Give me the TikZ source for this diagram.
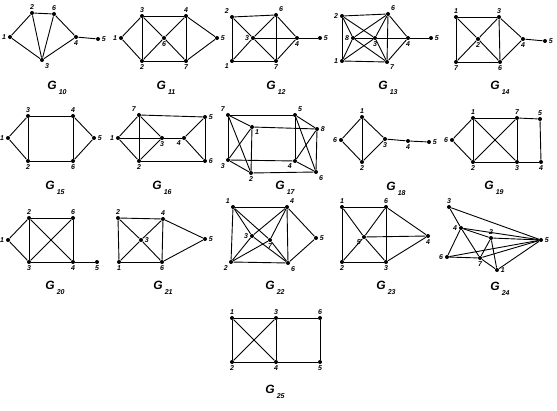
\documentclass[tikz,border=0pt]{standalone}
\usepackage{fontspec}
\setmainfont{Liberation Sans}
\tikzset{
  dot/.style={circle,fill=black,inner sep=0pt,minimum size=4pt},
  vnum/.style={font=\bfseries\itshape\fontsize{7}{7}\selectfont,inner sep=1pt},
  gname/.style={font=\bfseries\itshape\fontsize{12}{12}\selectfont},
}
\newcommand{\gsub}[1]{G\,\raisebox{-0.4em}{\fontsize{7}{7}\selectfont #1}}
\begin{document}
\begin{tikzpicture}[
        x=1pt, y=-1pt,
        line width=0.9pt,
        every label/.style={vnum},
        ]
        \useasboundingbox (0,0) rectangle (557,411);

        % G10
        \foreach \n/\x/\y/\a in {1/10/37/left,2/32/13/above,6/54/14/above,4/76/37/below,5/98/39/right,3/42/60/below right}
          \node[dot,label=\a:\n] (g10n\n) at (\x,\y) {};
        \foreach \u/\v in {1/2,1/3,2/6,2/3,6/3,6/4,3/4,4/5}
          \draw (g10n\u) -- (g10n\v);
        \node[gname] (t10) at (57,88) {\gsub{10}};

        % G11
        \foreach \n/\x/\y/\a in {1/121/38/left,3/142/16/above,4/186/16/above,5/217/38/right,6/164/38/below,2/142/61/below,7/186/61/below}
          \node[dot,label=\a:\n] (g11n\n) at (\x,\y) {};
        \foreach \u/\v in {1/3,1/2,3/4,3/2,3/6,6/7,2/6,6/4,4/7,4/5,7/5,2/7}
          \draw (g11n\u) -- (g11n\v);
        \node[gname] (t11) at (166,88) {\gsub{11}};

        % G12
        \foreach \n/\x/\y/\a in {2/232/17/above left,6/276/15/above right,3/253/38/left,4/297/38/below,5/320/38/right,1/232/61/below left,7/276/61/below}
          \node[dot,label=\a:\n] (g12n\n) at (\x,\y) {};
        \foreach \u/\v in {2/6,2/1,2/3,3/7,1/3,3/6,3/4,6/7,6/4,7/4,1/7,4/5}
          \draw (g12n\u) -- (g12n\v);
        \node[gname] (t12) at (276,88) {\gsub{12}};

        % G13
        \foreach \n/\x/\y/\a in {2/342/16/left,6/388/14/above right,8/353/38/left,3/375/38/below,4/408/38/below,5/431/38/right,1/342/61/left,7/387/62/below right}
          \node[dot,label=\a:\n] (g13n\n) at (\x,\y) {};
        \foreach \u/\v in {2/6,2/1,6/7,1/7,2/8,1/8,8/6,8/7,8/3,2/3,1/3,3/6,3/7,3/4,6/4,7/4,4/5}
          \draw (g13n\u) -- (g13n\v);
        \node[gname] (t13) at (388,88) {\gsub{13}};

        % G14
        \foreach \n/\x/\y/\a in {1/456/17/above,3/499/17/above,2/478/39/below,4/523/39/below,5/545/41/right,7/456/62/below,6/500/62/below}
          \node[dot,label=\a:\n] (g14n\n) at (\x,\y) {};
        \foreach \u/\v in {1/3,1/7,1/2,2/6,3/2,2/7,3/6,3/4,6/4,7/6,4/5}
          \draw (g14n\u) -- (g14n\v);
        \node[gname] (t14) at (500,88) {\gsub{14}};

        % G15
        \foreach \n/\x/\y/\a in {1/8/138/left,3/28/116/above,4/73/116/above,5/94/138/right,2/28/161/below,6/73/161/below}
          \node[dot,label=\a:\n] (g15n\n) at (\x,\y) {};
        \foreach \u/\v in {1/3,1/2,3/4,3/2,4/6,4/5,5/6,2/6}
          \draw (g15n\u) -- (g15n\v);
        \node[gname] (t15) at (55,188) {\gsub{15}};

        % G16
        \foreach \n/\x/\y/\a in {7/139/115/above left,5/205/117/right,1/118/138/left,3/162/138/below,4/184/138/below left,2/139/161/below,6/205/161/right}
          \node[dot,label=\a:\n] (g16n\n) at (\x,\y) {};
        \foreach \u/\v in {7/5,1/7,1/2,1/3,7/2,7/3,2/3,3/4,4/5,4/6,5/6,2/6}
          \draw (g16n\u) -- (g16n\v);
        \node[gname] (t16) at (162,188) {\gsub{16}};

        % G17
        \foreach \n/\x/\y/\a in {7/228/115/above left,5/295/115/above right,1/252/127/below right,8/317/129/right,3/228/160/below left,4/295/161/below left,2/251/173/below,6/316/172/below right}
          \node[dot,label=\a:\n] (g17n\n) at (\x,\y) {};
        \foreach \u/\v in {7/5,7/1,7/3,7/2,1/3,1/8,1/2,5/8,5/4,5/6,8/4,8/6,3/4,3/2,4/6,2/6}
          \draw (g17n\u) -- (g17n\v);
        \node[gname] (t17) at (285,188) {\gsub{17}};

        % G18
        \foreach \n/\x/\y/\a in {1/362/117/above,6/341/140/left,3/385/139/below,4/408/141/below,5/429/142/right,2/362/162/below}
          \node[dot,label=\a:\n] (g18n\n) at (\x,\y) {};
        \foreach \u/\v in {1/6,1/2,1/3,6/2,2/3,3/4,4/5}
          \draw (g18n\u) -- (g18n\v);
        \node[gname] (t18) at (396,189) {\gsub{18}};

        % G19
        \foreach \n/\x/\y/\a in {1/473/118/above,7/517/118/above,5/540/119/above,6/452/140/left,2/473/162/below,3/517/162/below,4/541/162/below}
          \node[dot,label=\a:\n] (g19n\n) at (\x,\y) {};
        \foreach \u/\v in {1/7,7/5,5/4,4/3,3/2,1/2,1/6,6/2,1/3,2/7,7/3}
          \draw (g19n\u) -- (g19n\v);
        \node[gname] (t19) at (494,188) {\gsub{19}};

        % G20
        \foreach \n/\x/\y/\a in {1/8/240/left,2/29/218/above,6/73/218/above,3/29/262/below,4/73/262/below,5/97/262/below}
          \node[dot,label=\a:\n] (g20n\n) at (\x,\y) {};
        \foreach \u/\v in {1/2,1/3,2/6,2/3,2/4,6/3,6/4,3/4,4/5}
          \draw (g20n\u) -- (g20n\v);
        \node[gname] (t20) at (55,288) {\gsub{20}};

        % G21
        \foreach \n/\x/\y/\a in {2/118/218/above,4/163/219/above,3/141/240/right,5/205/239/right,1/119/262/below,6/162/262/below}
          \node[dot,label=\a:\n] (g21n\n) at (\x,\y) {};
        \foreach \u/\v in {2/4,2/1,2/3,3/6,4/3,3/1,4/6,1/6,4/5,6/5}
          \draw (g21n\u) -- (g21n\v);
        \node[gname] (t21) at (163,288) {\gsub{21}};

        % G22
        \foreach \n/\x/\y/\a in {1/233/207/above left,4/287/207/above right,3/252/236/left,7/270/240/below,5/316/238/right,2/231/262/below left,6/288/263/below right}
          \node[dot,label=\a:\n] (g22n\n) at (\x,\y) {};
        \foreach \u/\v in {1/4,1/2,4/6,2/6,4/5,6/5,1/7,7/6,2/7,7/4,1/3,3/6,2/3,3/4}
          \draw (g22n\u) -- (g22n\v);
        \node[gname] (t22) at (275,288) {\gsub{22}};

        % G23
        \foreach \n/\x/\y/\a in {1/342/207/above,6/386/207/above,5/364/237/below left,4/428/236/below,2/342/262/below,3/386/262/below}
          \node[dot,label=\a:\n] (g23n\n) at (\x,\y) {};
        \foreach \u/\v in {1/6,1/2,6/3,2/3,6/4,3/4,1/5,5/3,2/5,5/6,5/4}
          \draw (g23n\u) -- (g23n\v);
        \node[gname] (t23) at (386,288) {\gsub{23}};

        % G24
        \foreach \n/\x/\y/\a in {3/449/207/above,4/461/228/left,6/447/257/left,2/491/238/above,7/480/258/below,1/497/270/right,5/541/240/right}
          \node[dot,label=\a:\n] (g24n\n) at (\x,\y) {};
        \foreach \u/\v in {3/4,4/6,3/5,4/5,6/5,2/5,7/5,1/5,4/2,4/7,6/7,7/1,2/1,2/7}
          \draw (g24n\u) -- (g24n\v);
        \node[gname] (t24) at (500,289) {\gsub{24}};

        % G25
        \foreach \n/\x/\y/\a in {1/232/318/above,3/276/318/above,6/320/318/above,2/232/362/below,4/276/362/below,5/320/362/below}
          \node[dot,label=\a:\n] (g25n\n) at (\x,\y) {};
        \foreach \u/\v in {1/3,3/6,1/2,3/4,6/5,2/4,4/5,1/4,2/3}
          \draw (g25n\u) -- (g25n\v);
        \node[gname] (t25) at (275,392) {\gsub{25}};

    \end{tikzpicture}
\end{document}
